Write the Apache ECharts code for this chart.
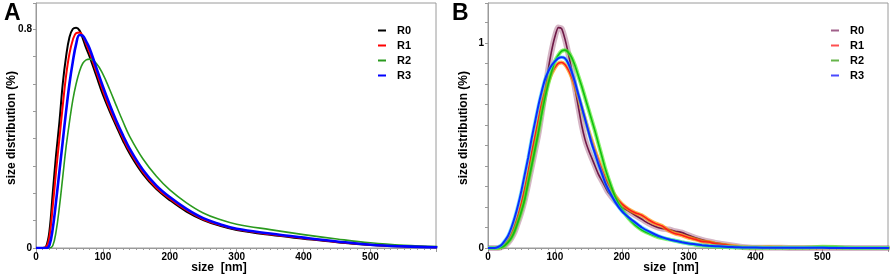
<!doctype html>
<html lang="en">
<head>
<meta charset="utf-8" />
<title>size distribution</title>
<script src="https://cdn.jsdelivr.net/npm/echarts@6/dist/echarts.min.js"></script>
<style>
  html, body { margin: 0; padding: 0; background: #fff; }
  #chart { width: 892px; height: 276px; }
</style>
</head>
<body>
<div id="chart"></div>
<script>
    // ---- panel A: smooth fitted curves ----
    var sizesA = [0, 10, 15, 20, 25, 30, 35, 40, 45, 50, 55, 60, 65, 70, 75, 80, 90, 100, 110, 120,
                  130, 140, 160, 180, 200, 225, 250, 275, 300, 350, 400, 450, 500, 550, 600];
    var r0A = [0, 0, 0.005, 0.06, 0.2, 0.34, 0.46, 0.6, 0.7, 0.77, 0.8, 0.805, 0.795, 0.765, 0.73, 0.7, 0.63, 0.56, 0.5, 0.445,
               0.392, 0.345, 0.27, 0.215, 0.175, 0.133, 0.102, 0.081, 0.066, 0.048, 0.034, 0.021, 0.011, 0.006, 0.003];
    var r1A = [0, 0, 0.003, 0.04, 0.15, 0.28, 0.4, 0.52, 0.63, 0.71, 0.76, 0.785, 0.787, 0.775, 0.745, 0.715, 0.645, 0.575, 0.51, 0.455,
               0.402, 0.354, 0.277, 0.22, 0.18, 0.138, 0.105, 0.084, 0.068, 0.05, 0.036, 0.022, 0.012, 0.006, 0.003];
    var r2A = [0, 0, 0, 0, 0.008, 0.06, 0.15, 0.26, 0.37, 0.46, 0.54, 0.6, 0.645, 0.675, 0.687, 0.69, 0.675, 0.635, 0.58, 0.52,
               0.462, 0.408, 0.325, 0.262, 0.212, 0.165, 0.128, 0.104, 0.087, 0.067, 0.049, 0.033, 0.019, 0.01, 0.005];
    var r3A = [0, 0, 0, 0.01, 0.07, 0.17, 0.28, 0.39, 0.5, 0.6, 0.68, 0.745, 0.778, 0.775, 0.755, 0.73, 0.66, 0.59, 0.525, 0.465,
               0.412, 0.363, 0.285, 0.228, 0.186, 0.143, 0.109, 0.087, 0.07, 0.053, 0.038, 0.024, 0.012, 0.006, 0.003];

    // ---- panel B: measured curves ----
    var sizesB = [0, 5, 10, 15, 20, 25, 30, 35, 40, 45, 50, 55, 60, 65, 70, 75, 80, 85, 90, 95,
                  100, 105, 110, 115, 120, 125, 130, 135, 140, 145, 150, 155, 160, 165, 170, 175, 180,
                  190, 200, 210, 220, 230, 240, 250, 260, 270, 280, 290, 300, 310, 320, 330, 340, 350, 360, 370, 380, 390, 400,
                  420, 440, 460, 480, 500, 520, 540, 560, 580, 600];
    var r0B = [0, 0, 0, 0, 0.004, 0.012, 0.026, 0.048, 0.08, 0.125, 0.175, 0.235, 0.31, 0.39, 0.47, 0.55, 0.65, 0.76, 0.87, 0.96,
               1.03, 1.075, 1.07, 1.02, 0.95, 0.87, 0.78, 0.69, 0.6, 0.53, 0.48, 0.44, 0.4, 0.36, 0.33, 0.3, 0.27,
               0.23, 0.2, 0.18, 0.16, 0.14, 0.12, 0.105, 0.095, 0.09, 0.082, 0.075, 0.062, 0.05, 0.04, 0.032, 0.025, 0.02, 0.015, 0.01, 0.005, 0.002, 0.001,
               0.001, 0.001, 0, 0, 0, 0, 0, 0, 0, 0];
    var r1B = [0, 0, 0, 0, 0.008, 0.02, 0.04, 0.07, 0.11, 0.16, 0.22, 0.29, 0.37, 0.46, 0.54, 0.62, 0.7, 0.76, 0.81, 0.85,
               0.88, 0.9, 0.905, 0.895, 0.87, 0.835, 0.79, 0.74, 0.685, 0.63, 0.575, 0.525, 0.475, 0.43, 0.385, 0.345, 0.31,
               0.255, 0.215, 0.19, 0.172, 0.16, 0.138, 0.12, 0.108, 0.085, 0.07, 0.062, 0.05, 0.042, 0.032, 0.029, 0.02, 0.016, 0.012, 0.008, 0.004, 0.003, 0.002,
               0.004, 0.002, 0.001, 0.001, 0.001, 0.001, 0, 0, 0, 0];
    var r2B = [0, 0, 0, 0, 0.004, 0.012, 0.028, 0.05, 0.085, 0.13, 0.18, 0.24, 0.32, 0.4, 0.48, 0.56, 0.65, 0.73, 0.8, 0.86,
               0.91, 0.94, 0.96, 0.965, 0.955, 0.93, 0.89, 0.84, 0.79, 0.735, 0.68, 0.625, 0.57, 0.51, 0.45, 0.39, 0.34,
               0.25, 0.19, 0.145, 0.112, 0.088, 0.072, 0.058, 0.048, 0.042, 0.035, 0.028, 0.022, 0.016, 0.012, 0.009, 0.007, 0.005, 0.004, 0.003, 0.002, 0.001, 0.001,
               0.001, 0.001, 0.001, 0.002, 0.006, 0.005, 0.001, 0, 0, 0];
    var r3B = [0, 0, 0, 0.005, 0.015, 0.035, 0.06, 0.1, 0.15, 0.21, 0.28, 0.36, 0.44, 0.53, 0.61, 0.69, 0.76, 0.82, 0.86, 0.89,
               0.91, 0.925, 0.93, 0.925, 0.9, 0.86, 0.81, 0.75, 0.69, 0.63, 0.57, 0.51, 0.46, 0.41, 0.365, 0.32, 0.285,
               0.225, 0.18, 0.15, 0.125, 0.1, 0.082, 0.066, 0.053, 0.043, 0.035, 0.028, 0.022, 0.018, 0.014, 0.011, 0.009, 0.007, 0.005, 0.004, 0.003, 0.002, 0.002,
               0.001, 0.001, 0.001, 0.001, 0.001, 0, 0, 0, 0, 0];

    var names = ['R0', 'R1', 'R2', 'R3'];
    var xLabels = [0, 100, 200, 300, 400, 500];
    var yLabelsA = [0, 0.8];
    var yLabelsB = [0, 1];

    var FONT = 'Liberation Sans';
    var GRAY = '#9a9a9a';

    function pairs(xs, ys) {
        return xs.map(function (x, i) { return [x, ys[i]]; });
    }

    function inList(list, v) {
        for (var i = 0; i < list.length; i++) {
            if (Math.abs(list[i] - v) < 1e-6) return true;
        }
        return false;
    }

    function xAxisFor(gridIndex) {
        return {
            type: 'value', gridIndex: gridIndex, min: 0, max: 598, interval: 100,
            axisLine: { show: true, lineStyle: { color: GRAY } },
            axisTick: { show: true, length: 4, lineStyle: { color: GRAY } },
            minorTick: { show: true, splitNumber: 10, length: 2, lineStyle: { color: GRAY } },
            splitLine: { show: false },
            axisLabel: {
                margin: 4, color: '#000', fontFamily: FONT, fontWeight: 'bold', fontSize: 10,
                formatter: function (v) { return inList(xLabels, v) ? String(v) : ''; }
            }
        };
    }

    function yAxisFor(gridIndex, max, labels) {
        return {
            type: 'value', gridIndex: gridIndex, min: 0, max: max, interval: 0.1,
            axisLine: { show: true, lineStyle: { color: GRAY } },
            axisTick: { show: true, length: 3, lineStyle: { color: GRAY } },
            splitLine: { show: false },
            axisLabel: {
                margin: 4, color: '#000', fontFamily: FONT, fontWeight: 'bold', fontSize: 10,
                formatter: function (v) { return inList(labels, v) ? String(v) : ''; }
            }
        };
    }

    var colorsA = ['#000000', '#ff0000', '#2a9a1e', '#0000ff'];
    var widthsA = [2, 2, 1.6, 2.6];
    var dataA = [r0A, r1A, r2A, r3A];

    var lineColorsB = ['#6e1846', '#ff1a1a', '#10c010', '#0a2cff'];
    var bandColorsB = ['rgba(150,70,110,0.4)', 'rgba(255,150,0,0.7)', 'rgba(90,235,50,0.7)', 'rgba(40,210,255,0.6)'];
    var bandWidthsB = [6, 4, 4, 3.5];
    var lineWidthsB = [1.6, 1.6, 1.6, 2];
    var legendColorsB = ['#a0608a', '#ff5050', '#66b44a', '#4a4aff'];
    var dataB = [r0B, r1B, r2B, r3B];

    var series = [];
    for (var i = 0; i < 4; i++) {
        series.push({
            name: names[i], type: 'line', xAxisIndex: 0, yAxisIndex: 0,
            data: pairs(sizesA, dataA[i]), showSymbol: false, smooth: 0.4,
            lineStyle: { color: colorsA[i], width: widthsA[i] },
            itemStyle: { color: colorsA[i] }, silent: true
        });
    }
    for (var j = 0; j < 4; j++) {
        series.push({
            name: 'band' + j, type: 'line', xAxisIndex: 1, yAxisIndex: 1,
            data: pairs(sizesB, dataB[j]), showSymbol: false, smooth: 0.2,
            lineStyle: { color: bandColorsB[j], width: bandWidthsB[j] }, silent: true
        });
        series.push({
            name: 'B' + names[j], type: 'line', xAxisIndex: 1, yAxisIndex: 1,
            data: pairs(sizesB, dataB[j]), showSymbol: false, smooth: 0.2,
            lineStyle: { color: lineColorsB[j], width: lineWidthsB[j] },
            itemStyle: { color: legendColorsB[j] }, silent: true
        });
    }

    var legendText = { fontFamily: FONT, fontWeight: 'bold', fontSize: 11, color: '#000', padding: [0, 0, 0, 6] };

    var option = {
        animation: false,
        grid: [
            { left: 36, top: 3, width: 400, height: 245, show: true, borderColor: GRAY, borderWidth: 1 },
            { left: 488, top: 3, width: 400, height: 245, show: true, borderColor: GRAY, borderWidth: 1 }
        ],
        xAxis: [xAxisFor(0), xAxisFor(1)],
        yAxis: [yAxisFor(0, 0.895, yLabelsA), yAxisFor(1, 1.195, yLabelsB)],
        legend: [
            {
                orient: 'vertical', left: 373, top: 20, itemGap: 4, icon: 'rect',
                itemWidth: 8, itemHeight: 2, textStyle: legendText,
                data: names.map(function (n) { return { name: n }; })
            },
            {
                orient: 'vertical', left: 826, top: 20, itemGap: 4, icon: 'rect',
                itemWidth: 8, itemHeight: 2, textStyle: legendText,
                formatter: function (n) { return n.slice(1); },
                data: names.map(function (n) { return { name: 'B' + n }; })
            }
        ],
        graphic: [
            { type: 'text', left: 4, top: 2, style: { text: 'A', font: 'bold 23px "Liberation Sans"', fill: '#000' } },
            { type: 'text', left: 452, top: 2, style: { text: 'B', font: 'bold 23px "Liberation Sans"', fill: '#000' } },
            { type: 'text', x: 219, y: 268, style: { text: 'size  [nm]', font: 'bold 12px "Liberation Sans"', fill: '#000', align: 'center', verticalAlign: 'middle' } },
            { type: 'text', x: 671, y: 268, style: { text: 'size  [nm]', font: 'bold 12px "Liberation Sans"', fill: '#000', align: 'center', verticalAlign: 'middle' } },
            { type: 'text', x: 12, y: 128, rotation: Math.PI / 2, style: { text: 'size distribution (%)', font: 'bold 12px "Liberation Sans"', fill: '#000', align: 'center', verticalAlign: 'middle' } },
            { type: 'text', x: 464, y: 128, rotation: Math.PI / 2, style: { text: 'size distribution (%)', font: 'bold 12px "Liberation Sans"', fill: '#000', align: 'center', verticalAlign: 'middle' } }
        ],
        series: series
    };

    var chart = echarts.init(document.getElementById('chart'));
    chart.setOption(option);
</script>
</body>
</html>
